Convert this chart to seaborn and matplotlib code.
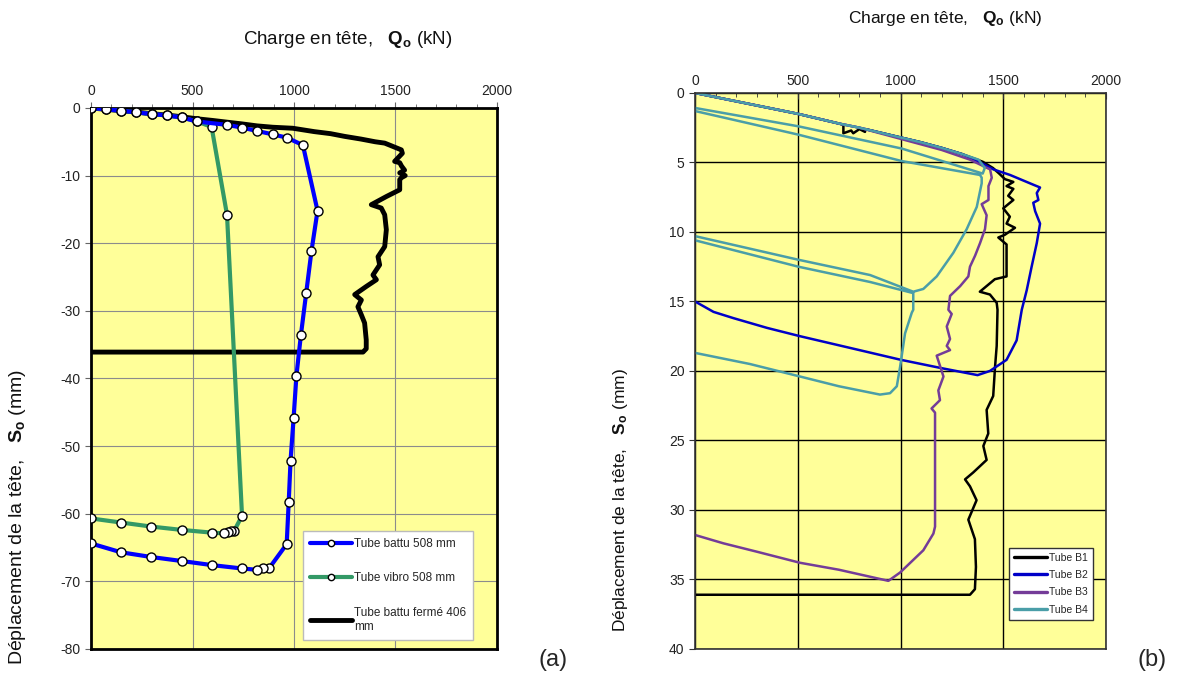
import matplotlib
matplotlib.use("Agg")
import matplotlib.pyplot as plt
import numpy as np
import pandas as pd
import seaborn as sns

# (a) essais de chargement
q_battu = [0, 72, 147, 220, 298, 374, 446, 522, 670, 742, 818, 895, 966, 1044, 1116, 1086, 1060, 1034,
           1012, 998, 983, 974, 964, 879, 849, 820, 744, 596, 448, 296, 147, 0]
s_battu = [0, -0.2, -0.4, -0.64, -0.9, -1.1, -1.4, -2.0, -2.5, -2.9, -3.4, -3.9, -4.4, -5.5, -15.2, -21.2,
           -27.4, -33.6, -39.6, -45.9, -52.2, -58.3, -64.5, -68.0, -68.1, -68.3, -68.1, -67.6, -67.0, -66.4,
           -65.7, -64.4]

q_vibro = [0, 72, 147, 220, 298, 374, 446, 522, 594, 670, 744, 706, 690, 673, 653, 596, 448, 296, 147, 0]
s_vibro = [0, -0.2, -0.4, -0.64, -0.9, -1.1, -1.4, -2.0, -2.8, -15.8, -60.3, -62.5, -62.6, -62.7, -62.9,
           -62.8, -62.4, -61.9, -61.3, -60.7]

q_ferme = [0, 72, 147, 220, 298, 374, 446, 522, 600, 670, 742, 818, 895, 994, 1100, 1180, 1249, 1330, 1400,
           1447, 1480, 1529, 1534, 1496, 1521, 1530, 1545, 1521, 1548, 1530, 1521, 1521, 1455, 1381, 1430,
           1447, 1455, 1447, 1414, 1422, 1389, 1406, 1356, 1299, 1332, 1315, 1332, 1348, 1356, 1356, 1340, 0]
s_ferme = [0, -0.2, -0.4, -0.6, -0.85, -1.05, -1.3, -1.6, -1.85, -2.1, -2.35, -2.65, -2.85, -3.0, -3.5, -3.8,
           -4.2, -4.6, -5.0, -5.2, -5.6, -6.2, -6.7, -7.9, -8.1, -8.6, -9.2, -9.6, -10.0, -10.3, -10.6, -12.1,
           -13.1, -14.3, -14.8, -15.8, -18.0, -20.5, -22.0, -23.2, -24.7, -25.4, -26.4, -27.6, -28.4, -29.4,
           -30.6, -31.8, -34.3, -35.6, -36.1, -36.1]

# (b) tubes B1..B4
q_b1 = [0, 100, 200, 300, 400, 500, 600, 700, 722, 722, 760, 770, 800, 827, 830, 900, 1000, 1100, 1200, 1300,
        1400, 1450, 1480, 1508, 1549, 1516, 1549, 1524, 1549, 1500, 1532, 1516, 1557, 1508, 1476, 1516, 1516,
        1459, 1386, 1435, 1468, 1472, 1468, 1460, 1451, 1419, 1427, 1403, 1419, 1354, 1314, 1338, 1370, 1330,
        1362, 1367, 1362, 1338, 0]
s_b1 = [0, 0.3, 0.6, 0.9, 1.2, 1.5, 1.85, 2.2, 2.3, 2.9, 2.7, 2.9, 2.6, 2.8, 2.6, 2.85, 3.2, 3.55, 3.95, 4.4,
        4.95, 5.4, 5.8, 6.2, 6.4, 6.7, 6.9, 7.4, 7.7, 8.3, 8.9, 9.4, 9.7, 10.2, 10.4, 10.9, 13.2, 13.4, 14.3,
        14.5, 15.1, 15.6, 18.2, 19.7, 21.8, 22.8, 24.5, 25.4, 26.4, 27.3, 27.8, 28.3, 29.3, 30.7, 32.1, 34.1,
        35.7, 36.1, 36.1]

q_b2 = [0, 100, 200, 300, 400, 500, 600, 700, 800, 900, 1000, 1100, 1200, 1300, 1387, 1452, 1533, 1646, 1679,
        1663, 1671, 1646, 1655, 1679, 1663, 1638, 1614, 1590, 1565, 1516, 1435, 1375, 1200, 1002, 800, 511,
        350, 187, 90, 0]
s_b2 = [0, 0.3, 0.6, 0.9, 1.2, 1.5, 1.85, 2.2, 2.5, 2.85, 3.2, 3.55, 3.95, 4.4, 5.0, 5.5, 5.9, 6.6, 6.8, 7.2,
        7.7, 7.9, 8.5, 9.4, 10.8, 12.5, 14.2, 15.6, 17.8, 19.2, 20.0, 20.3, 19.8, 19.2, 18.5, 17.5, 16.9,
        16.2, 15.75, 15.0]

q_b3 = [0, 100, 200, 300, 400, 500, 600, 700, 800, 900, 1000, 1100, 1200, 1338, 1436, 1444, 1428, 1428, 1395,
        1419, 1411, 1387, 1363, 1338, 1330, 1290, 1241, 1233, 1249, 1225, 1241, 1225, 1241, 1176, 1209, 1184,
        1192, 1151, 1168, 1168, 1160, 1111, 998, 941, 700, 511, 300, 138, 0]
s_b3 = [0, 0.3, 0.6, 0.9, 1.2, 1.5, 1.85, 2.2, 2.5, 2.9, 3.3, 3.7, 4.1, 4.8, 5.5, 6.1, 6.7, 7.7, 8.0, 8.8,
        9.8, 10.8, 11.7, 12.5, 13.2, 13.9, 14.6, 15.6, 15.9, 16.8, 17.7, 18.2, 18.5, 18.9, 20.4, 21.4, 22.1,
        22.7, 23.0, 31.2, 31.7, 32.9, 34.5, 35.1, 34.3, 33.8, 33.0, 32.4, 31.8]

q_b4 = [0, 100, 200, 300, 400, 500, 600, 700, 800, 900, 1000, 1100, 1200, 1300, 1380, 1410, 1400, 1006, 503,
        0, 0, 503, 1006, 1387, 1395, 1395, 1371, 1322, 1257, 1176, 1111, 1062, 852, 503, 0, 0, 503, 852,
        1062, 1062, 1055, 1022, 998, 982, 949, 900, 700, 511, 267, 0]
s_b4 = [0, 0.3, 0.6, 0.9, 1.2, 1.5, 1.85, 2.2, 2.5, 2.85, 3.2, 3.55, 3.95, 4.4, 4.8, 5.4, 5.8, 4.0, 2.4,
        1.08, 1.3, 3.0, 4.9, 5.9, 6.1, 6.5, 8.2, 9.8, 11.5, 13.2, 14.1, 14.3, 13.1, 12.0, 10.3, 10.6, 12.5,
        13.6, 14.4, 15.6, 15.8, 17.3, 19.7, 21.1, 21.6, 21.7, 21.1, 20.4, 19.5, 18.7]

sns.set_style("ticks")
plt.rcParams['font.family'] = ['Liberation Sans', 'DejaVu Sans']
plt.rcParams['mathtext.fontset'] = 'custom'
plt.rcParams['mathtext.rm'] = 'Liberation Sans'
plt.rcParams['mathtext.bf'] = 'Liberation Sans:bold'
plt.rcParams['axes.unicode_minus'] = False

fig = plt.figure(figsize=(11.79, 6.76), dpi=100)
fig.patch.set_facecolor('white')
ax1 = fig.add_axes([0.0772, 0.04, 0.3443, 0.8003])
ax2 = fig.add_axes([0.5895, 0.04, 0.3486, 0.8225])

# ---- (a)
ax1.set_facecolor('#ffff99')
sns.lineplot(x=q_ferme, y=s_ferme, sort=False, estimator=None, color='black', lw=3.5,
             label='Tube battu fermé 406\nmm', ax=ax1, zorder=3)
sns.lineplot(x=q_vibro, y=s_vibro, sort=False, estimator=None, color='#339966', lw=3,
             marker='o', ms=6.5, markerfacecolor='white', markeredgecolor='black', markeredgewidth=1,
             label='Tube vibro 508 mm', ax=ax1, zorder=4)
sns.lineplot(x=q_battu, y=s_battu, sort=False, estimator=None, color='#0000ff', lw=3,
             marker='o', ms=6.5, markerfacecolor='white', markeredgecolor='black', markeredgewidth=1,
             label='Tube battu 508 mm', ax=ax1, zorder=5)
ax1.set_xlim(0, 2000)
ax1.set_ylim(-80, 0)
ax1.xaxis.tick_top()
ax1.set_xticks(np.arange(0, 2001, 500))
ax1.set_xticks(np.arange(0, 2001, 100), minor=True)
ax1.set_yticks(np.arange(-80, 1, 10))
ax1.tick_params(axis='both', which='major', labelsize=10, length=4, color='#666666', labelcolor='#222222')
ax1.tick_params(axis='x', which='minor', length=3, color='#666666', top=True, bottom=False)
ax1.grid(True, which='major', color='#8c8c8c', lw=0.8)
for sp in ax1.spines.values():
    sp.set_visible(True)
    sp.set_linewidth(2)
    sp.set_color('black')
ax1.set_xlabel('')
ax1.set_ylabel('')
h, l = ax1.get_legend_handles_labels()
order = [2, 1, 0]
leg = ax1.legend([h[i] for i in order], [l[i] for i in order], loc='lower right',
                 bbox_to_anchor=(0.956, 0.006), fontsize=8.5, labelspacing=1.9, handlelength=3.5,
                 handletextpad=0.2, fancybox=False, framealpha=1, edgecolor='#bbbbbb', borderpad=0.6,
                 markerscale=0.7)
leg.get_frame().set_linewidth(1)

# ---- (b)
ax2.set_facecolor('#ffff99')
series_b = [(q_b1, s_b1, 'black', 'Tube B1'), (q_b2, s_b2, '#0000c8', 'Tube B2'),
            (q_b3, s_b3, '#743c98', 'Tube B3'), (q_b4, s_b4, '#4a9ea8', 'Tube B4')]
for q, s, c, lab in series_b:
    sns.lineplot(x=q, y=s, sort=False, estimator=None, color=c, lw=1.8, label=lab, ax=ax2)
ax2.set_xlim(0, 2000)
ax2.set_ylim(40, 0)
ax2.xaxis.tick_top()
ax2.set_xticks(np.arange(0, 2001, 500))
ax2.set_xticks(np.arange(0, 2001, 100), minor=True)
ax2.set_yticks(np.arange(0, 41, 5))
ax2.tick_params(axis='both', which='major', labelsize=10, length=4, color='#333333', labelcolor='#222222')
ax2.tick_params(axis='x', which='both', direction='in', top=True, bottom=False)
ax2.tick_params(axis='x', which='minor', length=3, color='#333333')
ax2.grid(True, which='major', color='black', lw=1)
for sp in ax2.spines.values():
    sp.set_visible(True)
    sp.set_linewidth(1.2)
    sp.set_color('#333333')
ax2.set_xlabel('')
ax2.set_ylabel('')
leg2 = ax2.legend(loc='lower right', bbox_to_anchor=(0.98, 0.043), fontsize=7.5, labelspacing=0.7,
                  handlelength=3.2, handletextpad=0.1, fancybox=False, framealpha=1, edgecolor='#333333',
                  borderpad=0.5)
leg2.get_frame().set_linewidth(1)
for ln in leg2.get_lines():
    ln.set_linewidth(2.4)

# titres et axes
fig.text(243 / 1179, 1 - 40 / 676, r'Charge en tête,   $\mathbf{Q_o}$ (kN)', fontsize=13.5,
         ha='left', va='center', color='#111111')
fig.text(848 / 1179, 1 - 18 / 676, r'Charge en tête,   $\mathbf{Q_o}$ (kN)', fontsize=12.5,
         ha='left', va='center', color='#111111')
fig.text(18 / 1179, 11 / 676, r'Déplacement de la tête,   $\mathbf{S_o}$ (mm)', fontsize=14,
         rotation=90, ha='center', va='bottom', color='#111111')
fig.text(621 / 1179, 44 / 676, r'Déplacement de la tête,   $\mathbf{S_o}$ (mm)', fontsize=12.5,
         rotation=90, ha='center', va='bottom', color='#111111')
fig.text(553 / 1179, 1 - 660 / 676, '(a)', fontsize=17, ha='center', va='center')
fig.text(1152 / 1179, 1 - 660 / 676, '(b)', fontsize=17, ha='center', va='center')

fig.savefig('out.png', dpi=100)
